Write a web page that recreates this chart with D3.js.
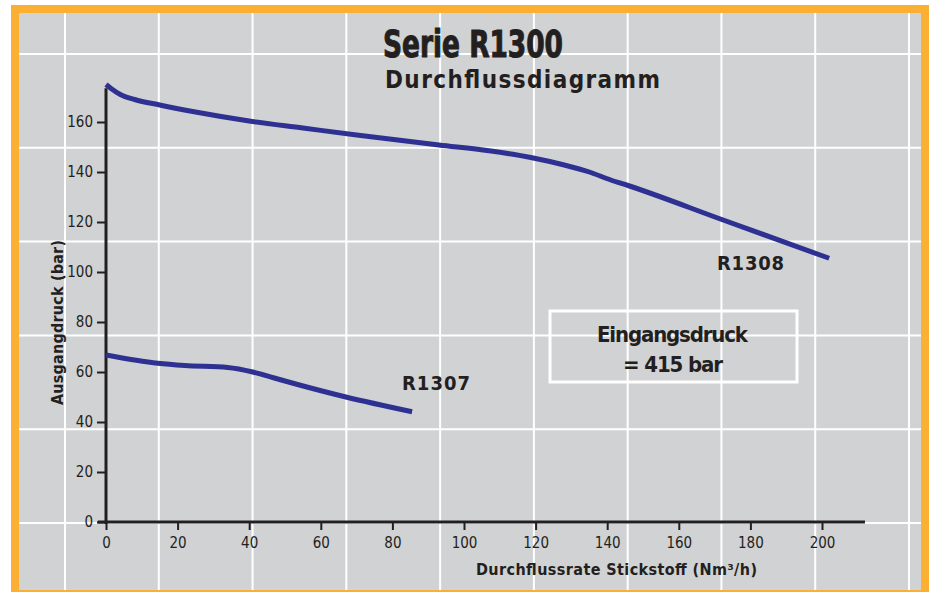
<!DOCTYPE html>
<html><head><meta charset="utf-8">
<script src="https://cdn.jsdelivr.net/npm/d3@7"></script>
<style>
html,body{margin:0;padding:0;background:#fff;}
svg{display:block;}
text{font-family:"Liberation Sans Narrow","DejaVu Sans Condensed","Liberation Sans",sans-serif;fill:#231f20;}
</style></head>
<body>
<script>
// ---- data ----
const xTicks = [0,20,40,60,80,100,120,140,160,180,200];
const yTicks = [0,20,40,60,80,100,120,140,160];
const r1308Flow = [0,1.5,4,8,15,25,40,55,70,93,107,119,128,135,141,146,172,202];
const r1308Pressure = [175,173.3,171,169,166.8,164,160.4,157.6,154.8,150.8,148.5,145.7,142.8,140,136.8,134.5,121,105.5];
const r1307Flow = [0,14.5,22,34,41,47,53,67,85.5];
const r1307Pressure = [66.8,63.5,62.6,61.8,60,57.6,55.2,50,44.1];
const seriesNames = ["R1308","R1307"];
const title = "Serie R1300";
const subtitle = "Durchflussdiagramm";
const xTitle = "Durchflussrate Stickstoff (Nm³/h)";
const yTitle = "Ausgangdruck (bar)";
const noteLines = ["Eingangsdruck","= 415 bar"];

const W = 931, H = 592;
const svg = d3.select("body").append("svg").attr("width",W).attr("height",H);

// frame
svg.append("rect").attr("x",11).attr("y",5).attr("width",918).attr("height",600).attr("fill","#fbb034");
svg.append("rect").attr("x",19).attr("y",13).attr("width",902).attr("height",577).attr("fill","#d1d2d4");

// background grid (decorative)
const gx = d3.scaleLinear().domain([0,9]).range([65,909]);
const gy = d3.scaleLinear().domain([0,5]).range([54,523]);
const grid = svg.append("g").attr("stroke","#ffffff").attr("stroke-width",2);
grid.selectAll("line.v").data(d3.range(0,10)).join("line").attr("class","v")
  .attr("x1",d=>gx(d)).attr("x2",d=>gx(d)).attr("y1",13).attr("y2",590);
grid.selectAll("line.h").data(d3.range(0,6)).join("line").attr("class","h")
  .attr("y1",d=>gy(d)).attr("y2",d=>gy(d)).attr("x1",19).attr("x2",921);

// scales
const x = d3.scaleLinear().domain([0,200]).range([106,822]);
const y = d3.scaleLinear().domain([0,160]).range([522,122]);

// axes
const axisColor = "#231f20";
const yAxis = svg.append("g").attr("transform",`translate(${x(0)},0)`)
  .call(d3.axisLeft(y).tickValues(yTicks).tickSize(9).tickPadding(4));
const xAxis = svg.append("g").attr("transform",`translate(0,${y(0)})`)
  .call(d3.axisBottom(x).tickValues(xTicks).tickSize(8).tickPadding(7));
[yAxis,xAxis].forEach(a=>{
  a.select(".domain").remove();
  a.selectAll(".tick line").attr("stroke",axisColor).attr("stroke-width",2);
  a.selectAll(".tick text").attr("font-size",15).attr("fill",axisColor)
    .style("font-family",'"Liberation Sans Narrow","DejaVu Sans Condensed",sans-serif');
});
svg.append("line").attr("x1",x(0)).attr("x2",x(0)).attr("y1",y(173.5)).attr("y2",y(-0.8))
  .attr("stroke",axisColor).attr("stroke-width",3);
svg.append("line").attr("x1",x(-2.3)).attr("x2",x(212)).attr("y1",y(0)).attr("y2",y(0))
  .attr("stroke",axisColor).attr("stroke-width",3);

// lines
const line = d3.line().x(d=>x(d[0])).y(d=>y(d[1])).curve(d3.curveMonotoneX);
const series = [d3.zip(r1308Flow,r1308Pressure), d3.zip(r1307Flow,r1307Pressure)];
svg.selectAll("path.series").data(series).join("path").attr("class","series")
  .attr("d",line).attr("fill","none").attr("stroke","#2e3192").attr("stroke-width",5)
  .attr("stroke-linecap","butt").attr("stroke-linejoin","round");

// series labels
svg.append("text").attr("x",717).attr("y",270).attr("font-size",20).attr("font-weight","bold")
  .attr("textLength",67).attr("lengthAdjust","spacing").text(seriesNames[0]);
svg.append("text").attr("x",402).attr("y",390).attr("font-size",20).attr("font-weight","bold")
  .attr("textLength",68).attr("lengthAdjust","spacing").text(seriesNames[1]);

// titles
svg.append("text").attr("x",383).attr("y",57).attr("font-size",37).attr("font-weight","bold")
  .attr("stroke","#231f20").attr("stroke-width",1)
  .attr("textLength",180).attr("lengthAdjust","spacingAndGlyphs").text(title);
svg.append("text").attr("x",385).attr("y",88).attr("font-size",24).attr("font-weight","bold")
  .attr("textLength",275).attr("lengthAdjust","spacing").text(subtitle);

// axis titles
svg.append("text").attr("x",476).attr("y",575).attr("font-size",16).attr("font-weight","bold")
  .attr("textLength",281).attr("lengthAdjust","spacing").text(xTitle);
svg.append("text").attr("transform","translate(63,405) rotate(-90)").attr("font-size",16).attr("font-weight","bold")
  .attr("textLength",165).attr("lengthAdjust","spacing").text(yTitle);

// note box
svg.append("rect").attr("x",550).attr("y",311).attr("width",247).attr("height",71)
  .attr("fill","none").attr("stroke","#ffffff").attr("stroke-width",3);
svg.append("text").attr("x",597).attr("y",342).attr("font-size",22).attr("font-weight","bold")
  .attr("textLength",151).attr("lengthAdjust","spacing").text(noteLines[0]);
svg.append("text").attr("x",623).attr("y",372).attr("font-size",22).attr("font-weight","bold")
  .attr("textLength",100).attr("lengthAdjust","spacing").text(noteLines[1]);
</script>
</body></html>
